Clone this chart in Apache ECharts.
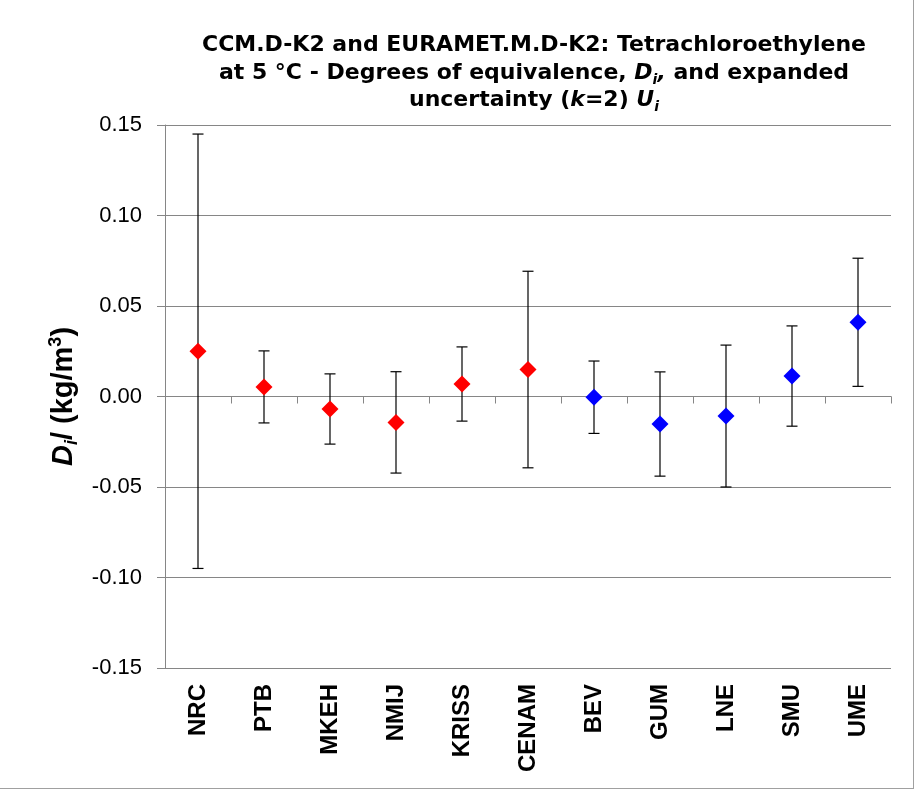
<!DOCTYPE html>
<html>
<head>
<meta charset="utf-8">
<script src="https://cdn.jsdelivr.net/npm/echarts@6/dist/echarts.min.js"></script>
<style>
  html, body { margin: 0; padding: 0; background: #fff; }
  #wrap { position: absolute; left: 0; top: 0; width: 913px; height: 788px; border-right: 1px solid #a0a0a0; border-bottom: 1px solid #a0a0a0; }
  #chart { width: 913px; height: 788px; }
</style>
</head>
<body>
<div id="wrap"><div id="chart"></div></div>
<script>
// Participants (categories)
const categories = ['NRC', 'PTB', 'MKEH', 'NMIJ', 'KRISS', 'CENAM', 'BEV', 'GUM', 'LNE', 'SMU', 'UME'];
// Comparison each participant belongs to
const groups = ['CCM', 'CCM', 'CCM', 'CCM', 'CCM', 'CCM', 'EURAMET', 'EURAMET', 'EURAMET', 'EURAMET', 'EURAMET'];
// Degrees of equivalence D_i (kg/m3)
const degrees = [0.0250, 0.0053, -0.0069, -0.0143, 0.0069, 0.0149, -0.0004, -0.0152, -0.0108, 0.0113, 0.0410];
// Expanded uncertainty U_i (k=2) (kg/m3)
const uncertainty = [0.1200, 0.0199, 0.0194, 0.0280, 0.0205, 0.0543, 0.0200, 0.0288, 0.0392, 0.0277, 0.0354];
// Y axis ticks
const yMin = -0.15, yMax = 0.15, yStep = 0.05;

const chart = echarts.init(document.getElementById('chart'), null, { renderer: 'canvas' });

const errData = categories.map((c, i) => [i, degrees[i] - uncertainty[i], degrees[i] + uncertainty[i]]);
const groupData = g => categories.map((c, i) => groups[i] === g ? [i, degrees[i]] : [i, null]);

const titleFont = { fontFamily: 'DejaVu Sans', fontWeight: 'bold', fontSize: 22, color: '#000' };
const nameFont = { fontFamily: 'Liberation Sans', fontWeight: 'bold', color: '#000' };

chart.setOption({
  animation: false,
  backgroundColor: '#fff',
  title: {
    text: 'CCM.D-K2 and EURAMET.M.D-K2: Tetrachloroethylene\n' +
          '{n|at 5 °C - Degrees of equivalence, }{i|D}{s|i}{i|,}{n| and expanded}\n' +
          '{n|uncertainty (}{i|k}{n|=2) }{i|U}{s|i}',
    left: 529,
    top: 27,
    textAlign: 'center',
    textStyle: Object.assign({}, titleFont, {
      lineHeight: 27.5,
      rich: {
        n: Object.assign({}, titleFont, { lineHeight: 27.5 }),
        i: Object.assign({}, titleFont, { fontStyle: 'italic', lineHeight: 27.5 }),
        s: Object.assign({}, titleFont, { fontStyle: 'italic', fontSize: 14, lineHeight: 14, verticalAlign: 'bottom' })
      }
    })
  },
  grid: { left: 165, right: 22, top: 125, bottom: 120, containLabel: false },
  xAxis: [
    {
      type: 'category',
      data: categories,
      position: 'bottom',
      axisLine: { show: false, onZero: false },
      axisTick: { show: false },
      splitLine: { show: false },
      axisLabel: {
        rotate: 90,
        margin: 16,
        fontFamily: 'Liberation Sans',
        fontWeight: 'bold',
        fontSize: 24,
        color: '#000'
      }
    },
    {
      type: 'category',
      data: categories,
      position: 'bottom',
      axisLine: { show: true, onZero: true, lineStyle: { color: '#868686', width: 1 } },
      axisTick: { show: true, inside: false, length: 7, alignWithLabel: false, lineStyle: { color: '#868686', width: 1 } },
      axisLabel: { show: false },
      splitLine: { show: false }
    }
  ],
  yAxis: {
    type: 'value',
    min: yMin,
    max: yMax,
    interval: yStep,
    name: '{d|D}{s|i}{n|/ (kg/m}{p|3}{n|)}',
    nameLocation: 'middle',
    nameRotate: 90,
    nameGap: 83,
    nameTextStyle: Object.assign({}, nameFont, {
      fontSize: 29,
      lineHeight: 34,
      rich: {
        d: Object.assign({}, nameFont, { fontSize: 29, lineHeight: 34, fontStyle: 'italic' }),
        n: Object.assign({}, nameFont, { fontSize: 29, lineHeight: 34 }),
        s: Object.assign({}, nameFont, { fontSize: 18, lineHeight: 18, fontStyle: 'italic', verticalAlign: 'bottom' }),
        p: Object.assign({}, nameFont, { fontSize: 18, lineHeight: 18, verticalAlign: 'top' })
      }
    }),
    axisLine: { show: true, lineStyle: { color: '#868686', width: 1 } },
    axisTick: { show: true, inside: false, length: 8, lineStyle: { color: '#868686', width: 1 } },
    splitLine: { show: true, lineStyle: { color: '#868686', width: 1 } },
    axisLabel: {
      margin: 23,
      fontFamily: 'Liberation Sans',
      fontSize: 22,
      color: '#000',
      formatter: v => v.toFixed(2)
    }
  },
  series: [
    {
      name: 'U',
      type: 'custom',
      xAxisIndex: 0,
      data: errData,
      z: 3,
      renderItem: function (params, api) {
        const x = api.value(0);
        const lo = api.coord([x, api.value(1)]);
        const hi = api.coord([x, api.value(2)]);
        const hw = 5.5;
        const st = { stroke: '#000', lineWidth: 1.2 };
        return {
          type: 'group',
          children: [
            { type: 'line', shape: { x1: lo[0], y1: lo[1], x2: hi[0], y2: hi[1] }, style: st },
            { type: 'line', shape: { x1: lo[0] - hw, y1: lo[1], x2: lo[0] + hw, y2: lo[1] }, style: st },
            { type: 'line', shape: { x1: hi[0] - hw, y1: hi[1], x2: hi[0] + hw, y2: hi[1] }, style: st }
          ]
        };
      }
    },
    {
      name: 'CCM.D-K2',
      type: 'scatter',
      xAxisIndex: 0,
      symbol: 'diamond',
      symbolSize: 17,
      z: 5,
      itemStyle: { color: '#ff0000', opacity: 1 },
      data: groupData('CCM')
    },
    {
      name: 'EURAMET.M.D-K2',
      type: 'scatter',
      xAxisIndex: 0,
      symbol: 'diamond',
      symbolSize: 17,
      z: 5,
      itemStyle: { color: '#0000ff', opacity: 1 },
      data: groupData('EURAMET')
    }
  ]
});
</script>
</body>
</html>
